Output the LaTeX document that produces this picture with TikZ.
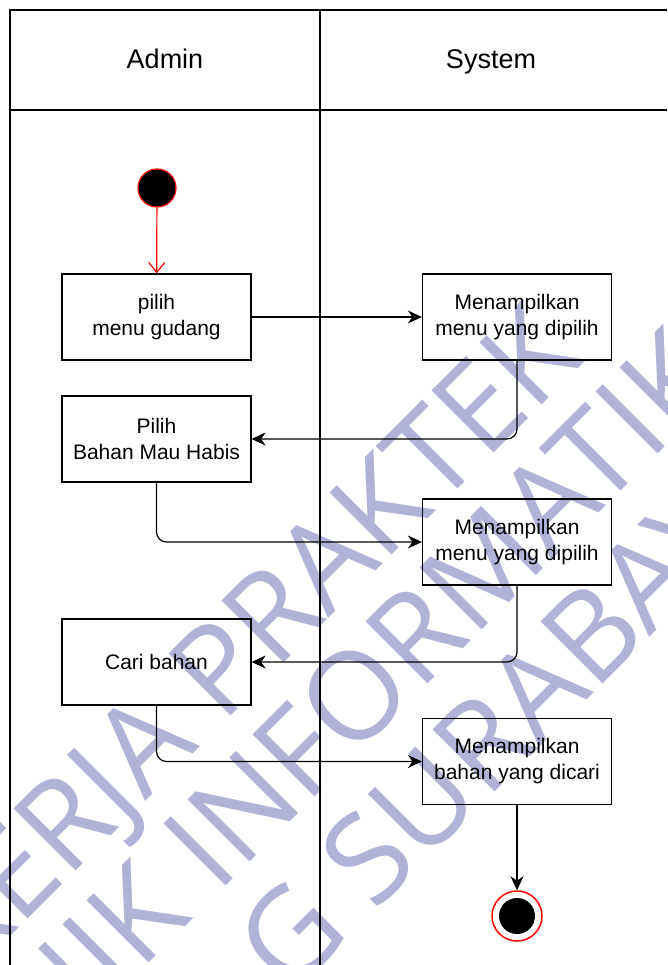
\documentclass[tikz,border=0pt]{standalone}
\usepackage{fontspec}
\setmainfont{Liberation Sans}
\newfontfamily\markfont{Open Sans}
\usetikzlibrary{arrows.meta}
\definecolor{markblue}{RGB}{176,178,216}
\definecolor{startred}{RGB}{255,0,0}

\begin{document}
\begin{tikzpicture}[x=1pt,y=-1pt,
  act/.style={draw=black, line width=1.2pt, minimum width=189pt, minimum height=86pt,
              inner sep=0pt, align=center, font=\fontsize{21}{26}\selectfont},
  flow/.style={draw=black, line width=1.2pt, rounded corners=10pt,
               -{Stealth[length=14pt,width=13pt,inset=4.5pt]}},
  lane/.style={draw=black, line width=1.2pt},
  lanetitle/.style={font=\fontsize{27}{32}\selectfont, anchor=base},
  wm/.style={text=markblue, inner sep=0pt, rotate=45,
             font=\markfont\fontsize{123}{123}\selectfont},
]
\useasboundingbox (0,0) rectangle (667,965);

% watermark lettering
\begin{scope}
  \clip (0,0) rectangle (667,965);
  \node[wm, anchor=base east] at (145,802) {KERJ};
  \node[wm, anchor=base west] at (145,802) {A PRAKTEK};
  \node[wm, anchor=base east] at (194,918) {TEKNIK};
  \node[wm, anchor=base west] at (217,895) {INFORMATIKA};
  \node[wm, anchor=base west] at (289,998) {G SURABAYA};
\end{scope}

% swimlanes
\draw[lane] (667,10) -- (10,10) -- (10,965);
\draw[lane] (10,110) -- (667,110);
\draw[lane] (320,10) -- (320,965);
\node[lanetitle] (admin) at (165,69) {Admin};
\node[lanetitle] (system) at (491,69) {System};

% activities
\node[circle, draw=startred, fill=black, line width=1.2pt, minimum size=38pt, inner sep=0pt] (start) at (157,188) {};
\node[act] (a1) at (156.5,317) {pilih\\menu gudang};
\node[act] (s1) at (517,317) {Menampilkan\\menu yang dipilih};
\node[act] (a2) at (156.5,439) {Pilih\\Bahan Mau Habis};
\node[act] (s2) at (517,542) {Menampilkan\\menu yang dipilih};
\node[act] (a3) at (156.5,662) {Cari bahan};
\node[act] (s3) at (517,761.5) {Menampilkan\\bahan yang dicari};
\node[circle, draw=startred, fill=white, line width=1.5pt, minimum size=50pt, inner sep=0pt] (end) at (517,916) {};
\node[circle, fill=black, minimum size=36pt, inner sep=0pt] (endcore) at (end.center) {};

% transitions
\draw[startred, line width=1.2pt, -{Straight Barb[length=10pt,width=16pt]}] (start) -- (a1);
\draw[flow] (a1) -- (s1);
\draw[flow] (s1.south) |- (a2.east);
\draw[flow] (a2.south) |- (s2.west);
\draw[flow] (s2.south) |- (a3.east);
\draw[flow] (a3.south) |- (s3.west);
\draw[flow] (s3) -- (end);
\end{tikzpicture}
\end{document}
